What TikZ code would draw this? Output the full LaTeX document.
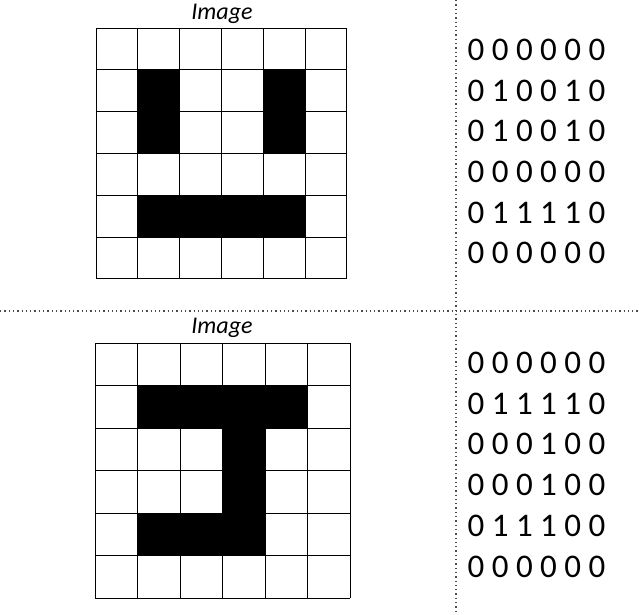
\documentclass[tikz,border=0pt]{standalone}
\usepackage{fontspec}
\setmainfont{Carlito}
\begin{document}
\begin{tikzpicture}[x=1pt,y=-1pt]
  \tikzstyle{every node}=[inner sep=0pt]
  \tikzstyle{bits}=[font=\fontsize{33}{33}\selectfont]
  \tikzstyle{caption}=[font=\fontsize{24}{24}\selectfont\itshape]
  \tikzstyle{divider}=[gray!60!black,line width=1.3pt,dash pattern=on 1.3pt off 3pt]
  \useasboundingbox[fill=white] (0,0) rectangle (639,614);
  % dividers
  \coordinate (vtop) at (456,0);
  \coordinate (vbot) at (456,614);
  \coordinate (hleft) at (0,311);
  \coordinate (hright) at (639,311);
  \draw[divider] (vtop)--(vbot);
  \draw[divider] (hleft)--(hright);
  % top picture
  \node[caption] (capTop) at (222,14) {Image};
  \begin{scope}[shift={(96,28)},x=41.83pt,y=-41.83pt]
    \foreach \c/\r in {1/1,4/1,1/2,4/2,1/4,2/4,3/4,4/4}
      \fill (\c,\r) rectangle +(1,1);
    \foreach \i in {0,...,6}{
      \draw[line width=1pt] (\i,0)--(\i,6);
      \draw[line width=1pt] (0,\i)--(6,\i);
    }
  \end{scope}
  \foreach \y/\bitrow [count=\n] in {50/0 0 0 0 0 0,91/0 1 0 0 1 0,131/0 1 0 0 1 0,
      172/0 0 0 0 0 0,213/0 1 1 1 1 0,253/0 0 0 0 0 0}
    \node[bits] (rowTop\n) at (536.5,\y) {\bitrow};
  % bottom picture
  \node[caption] (capBot) at (222,328) {Image};
  \begin{scope}[shift={(95,343)},x=42.5pt,y=-42.5pt]
    \foreach \c/\r in {1/1,2/1,3/1,4/1,3/2,3/3,1/4,2/4,3/4}
      \fill (\c,\r) rectangle +(1,1);
    \foreach \i in {0,...,6}{
      \draw[line width=1pt] (\i,0)--(\i,6);
      \draw[line width=1pt] (0,\i)--(6,\i);
    }
  \end{scope}
  \foreach \y/\bitrow [count=\n] in {363/0 0 0 0 0 0,404/0 1 1 1 1 0,444/0 0 0 1 0 0,
      485/0 0 0 1 0 0,526/0 1 1 1 0 0,567/0 0 0 0 0 0}
    \node[bits] (rowBot\n) at (536.5,\y) {\bitrow};
\end{tikzpicture}
\end{document}
